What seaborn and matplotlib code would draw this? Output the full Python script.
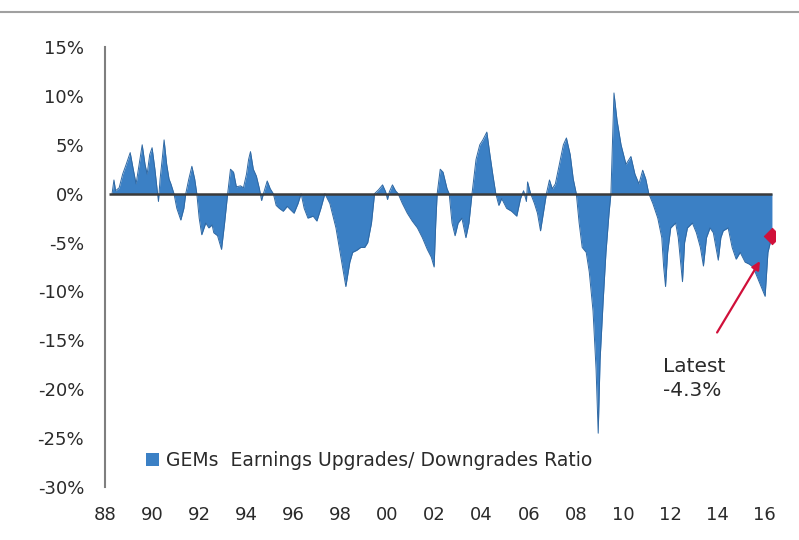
import matplotlib
matplotlib.use("Agg")
import matplotlib.pyplot as plt
import seaborn as sns
from matplotlib.lines import Line2D
from matplotlib.ticker import FuncFormatter

# GEMs earnings upgrades / downgrades ratio (decimal years, %)
dates = [
    1988.30, 1988.38, 1988.45, 1988.60, 1988.75, 1988.90, 1989.07, 1989.20, 1989.32, 1989.45, 1989.58, 1989.70, 1989.79,
    1989.90, 1990.00, 1990.12, 1990.21, 1990.27, 1990.34, 1990.45, 1990.51, 1990.62, 1990.72, 1990.80, 1990.93,
    1991.05, 1991.22, 1991.35, 1991.43, 1991.56, 1991.69, 1991.81, 1991.90, 1992.00, 1992.11, 1992.28, 1992.41,
    1992.55, 1992.62, 1992.78, 1992.95, 1993.08, 1993.21, 1993.33, 1993.46, 1993.58, 1993.76, 1993.88,
    1994.01, 1994.10, 1994.18, 1994.30, 1994.43, 1994.56, 1994.65, 1994.73, 1994.89, 1995.02, 1995.15, 1995.27,
    1995.40, 1995.57, 1995.74, 1995.86, 1996.03, 1996.20, 1996.33, 1996.46, 1996.62, 1996.84,
    1997.00, 1997.17, 1997.34, 1997.55, 1997.81, 1998.02, 1998.23, 1998.40, 1998.52, 1998.69, 1998.86, 1999.03,
    1999.16, 1999.32, 1999.45, 1999.62, 1999.79, 1999.92,
    2000.00, 2000.08, 2000.21, 2000.34, 2000.45, 2000.63, 2000.84, 2001.05, 2001.27, 2001.48, 2001.69, 2001.86,
    2001.98, 2002.05, 2002.11, 2002.24, 2002.36, 2002.53, 2002.62, 2002.74, 2002.87,
    2003.00, 2003.16, 2003.33, 2003.46, 2003.59, 2003.76, 2003.92, 2004.05, 2004.22, 2004.35, 2004.47, 2004.60,
    2004.73, 2004.85, 2005.06, 2005.27, 2005.49, 2005.65, 2005.78, 2005.90, 2005.95,
    2006.08, 2006.24, 2006.37, 2006.50, 2006.62, 2006.75, 2006.88, 2007.00, 2007.13, 2007.30, 2007.47, 2007.60,
    2007.76, 2007.89, 2008.02, 2008.14, 2008.27, 2008.44, 2008.57, 2008.73, 2008.86, 2008.95,
    2009.03, 2009.16, 2009.28, 2009.41, 2009.49, 2009.62, 2009.75, 2009.92, 2010.13, 2010.34, 2010.51, 2010.68,
    2010.84, 2010.97, 2011.10, 2011.27, 2011.48, 2011.65, 2011.73, 2011.81, 2011.90,
    2012.03, 2012.24, 2012.35, 2012.53, 2012.62, 2012.74, 2012.95, 2013.12, 2013.29, 2013.42, 2013.55, 2013.70,
    2013.84, 2013.95, 2014.05, 2014.16, 2014.26, 2014.47, 2014.64, 2014.81, 2014.98, 2015.19, 2015.36, 2015.53,
    2015.70, 2015.87, 2016.04, 2016.16, 2016.33,
]
ratio = [
    0.0, 1.4, 0.3, 0.6, 2.0, 3.0, 4.2, 2.5, 1.0, 3.0, 5.0, 3.0, 2.0,
    4.0, 4.7, 2.5, 0.5, -0.8, 1.5, 4.0, 5.5, 3.0, 1.5, 1.0, 0.0,
    -1.5, -2.7, -1.5, 0.0, 1.5, 2.8, 1.5, 0.0, -2.5, -4.2, -3.0, -3.5,
    -3.2, -4.0, -4.3, -5.7, -3.0, 0.0, 2.5, 2.2, 0.7, 0.8, 0.6,
    2.0, 3.5, 4.3, 2.5, 1.8, 0.5, -0.7, 0.0, 1.3, 0.5, 0.0, -1.2,
    -1.5, -1.8, -1.3, -1.6, -2.0, -1.0, 0.0, -1.5, -2.5, -2.3,
    -2.8, -1.5, 0.0, -1.0, -3.5, -6.5, -9.5, -7.0, -6.0, -5.8, -5.5, -5.5,
    -5.0, -3.0, 0.0, 0.4, 0.9, 0.2,
    -0.6, 0.2, 0.9, 0.3, 0.0, -1.0, -2.0, -2.8, -3.5, -4.5, -5.7, -6.5,
    -7.5, -3.0, 0.0, 2.5, 2.2, 0.5, 0.0, -3.0, -4.3,
    -3.0, -2.5, -4.5, -3.0, 0.0, 3.5, 5.0, 5.5, 6.3, 4.0, 2.0, 0.0,
    -1.2, -0.5, -1.5, -1.8, -2.3, -0.5, 0.3, -0.8, 1.2,
    0.0, -1.0, -2.0, -3.8, -2.0, 0.0, 1.4, 0.5, 1.0, 3.0, 5.0, 5.7,
    4.0, 1.5, 0.0, -3.0, -5.5, -6.0, -8.0, -12.0, -18.0, -24.5,
    -17.0, -11.0, -6.0, -2.0, 0.0, 10.3, 7.5, 5.0, 3.0, 3.8, 2.0, 1.0,
    2.4, 1.5, 0.0, -1.0, -2.5, -4.5, -7.5, -9.5, -6.0,
    -3.5, -3.0, -4.5, -9.0, -5.0, -3.5, -3.0, -4.0, -5.5, -7.4, -4.5, -3.5,
    -4.0, -5.5, -6.8, -4.5, -3.8, -3.5, -5.5, -6.7, -6.0, -7.0, -7.2, -7.5,
    -8.5, -9.5, -10.5, -6.0, -4.3,
]
assert len(dates) == len(ratio)

year_ticks = list(range(1988, 2017, 2))
year_labels = [f"{y % 100:02d}" for y in year_ticks]
pct_ticks = [15, 10, 5, 0, -5, -10, -15, -20, -25, -30]

series_label = "GEMs  Earnings Upgrades/ Downgrades Ratio"
latest_label = "Latest\n-4.3%"

BLUE = "#3b80c5"
EDGE = "#2f68a3"
RED = "#d0103a"
TEXT = "#2a2a2a"

sns.set_style("white")
plt.rcParams["font.family"] = ["DejaVu Sans"]

fig = plt.figure(figsize=(7.99, 5.40), dpi=100)
ax = fig.add_axes([105 / 799, 53 / 540, 670 / 799, 440 / 540])

ax.fill_between(dates, ratio, 0, color=BLUE, lw=0, label=series_label)
sns.lineplot(x=dates, y=ratio, ax=ax, color=EDGE, lw=0.7, legend=False)
ax.hlines(0, 1988.186, dates[-1], color="#3a3a3a", lw=1.8, zorder=3)

# latest reading: marker, label and arrow
sns.scatterplot(x=[dates[-1]], y=[ratio[-1]], ax=ax, marker="D", s=70,
                color=RED, edgecolor=RED, zorder=5, legend=False)
ax.annotate("", xy=(2015.82, -6.9), xytext=(2014.0, -14.2),
            arrowprops=dict(arrowstyle="-|>", color=RED, lw=1.6, mutation_scale=12,
                            shrinkA=0, shrinkB=0))
ax.text(2011.69, -18.9, latest_label, fontsize=14.5, color=TEXT, ha="left",
        va="center", linespacing=1.35)

ax.set_xlim(1988.186, 2016.46)
ax.set_ylim(-30, 15)
ax.set_xticks(year_ticks)
ax.set_xticklabels(year_labels)
ax.set_yticks(pct_ticks)
ax.yaxis.set_major_formatter(FuncFormatter(lambda v, _: f"{v:.0f}%"))

for side in ["top", "right", "bottom"]:
    ax.spines[side].set_visible(False)
ax.spines["left"].set_color("#7f7f7f")
ax.spines["left"].set_linewidth(1.5)

ax.tick_params(axis="x", length=0, pad=14, labelsize=13, labelcolor=TEXT)
ax.tick_params(axis="y", direction="out", length=6, width=1.3, color="#7f7f7f",
               pad=9, labelsize=13, labelcolor=TEXT)
ax.set_xlabel("")
ax.set_ylabel("")

leg = ax.legend(loc="center left", bbox_to_anchor=(0.05, 0.06), frameon=False,
                handlelength=0.7, handleheight=0.7, handletextpad=0.35,
                borderaxespad=0, fontsize=13.5)
for t in leg.get_texts():
    t.set_color(TEXT)

# thin rule across the top of the figure
fig.add_artist(Line2D([0, 1], [1 - 12 / 540, 1 - 12 / 540], transform=fig.transFigure,
                      color="#a0a0a0", lw=1.5))

fig.savefig("out.png", dpi=100)
